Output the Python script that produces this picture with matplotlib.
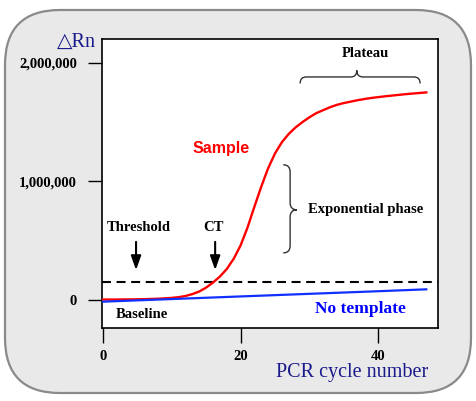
import numpy as np
import matplotlib.pyplot as plt
from matplotlib.patches import FancyBboxPatch, PathPatch
from matplotlib.path import Path

plt.rcParams['font.family'] = ['Liberation Serif', 'DejaVu Serif']

# amplification curve of the sample (delta Rn)
cycles = list(range(0, 48))
sample = [0.004, 0.004, 0.004, 0.005, 0.005, 0.006, 0.007, 0.009, 0.011, 0.014,
          0.018, 0.024, 0.034, 0.050, 0.072, 0.105, 0.148, 0.198, 0.262, 0.348,
          0.460, 0.610, 0.785, 0.955, 1.110, 1.235, 1.330, 1.400, 1.455, 1.500,
          1.540, 1.575, 1.600, 1.625, 1.645, 1.660, 1.672, 1.684, 1.694, 1.703,
          1.710, 1.717, 1.723, 1.729, 1.735, 1.740, 1.745, 1.750]
sample = [v * 1e6 for v in sample]

# no template control
ntc_cycles = [0, 10, 20, 30, 40, 47]
ntc = [-0.014e6, 0.008e6, 0.030e6, 0.052e6, 0.074e6, 0.090e6]

threshold = 0.152e6

xticks = [0, 20, 40]
yticks = [0, 1000000, 2000000]
ytick_labels = ['0', '1,000,000', '2,000,000']

fig = plt.figure(figsize=(4.77, 4.01), dpi=100)
fig.patch.set_facecolor('white')

# rounded grey frame, drawn in pixel units
bg = fig.add_axes([0, 0, 1, 1], zorder=0)
bg.set_xlim(0, 477)
bg.set_ylim(0, 401)
bg.axis('off')
frame = FancyBboxPatch((5, 8), 466, 383, boxstyle='round,pad=0,rounding_size=55',
                       facecolor='#e9e9e9', edgecolor='#8a8a8a', linewidth=1.6)
bg.add_patch(frame)
bg.text(76, 401 - 42, '\u25b3Rn', color='#1a1a8c', fontsize=14.5,
        ha='center', va='center', family=['Liberation Serif', 'DejaVu Sans'])
bg.text(352, 401 - 373, 'PCR cycle number', color='#1a1a8c', fontsize=14.5,
        ha='center', va='center')

ax = fig.add_axes([102 / 477, 1 - 328 / 401, 336 / 477, 289 / 401], zorder=1)
ax.set_facecolor('white')

ax.plot(cycles, sample, color='red', lw=1.7, zorder=3)
ax.plot(ntc_cycles, ntc, color='#1030ff', lw=1.6, zorder=4)
ax.axhline(threshold, color='black', lw=1.5, dashes=(4.3, 2.7), zorder=2)

ax.set_xlim(-0.15, 48.7)
ax.set_ylim(-0.236e6, 2.2e6)
ax.set_xticks(xticks)
ax.set_xticklabels([str(t) for t in xticks])
ax.set_yticks(yticks)
ax.set_yticklabels(ytick_labels)
for lab in ax.get_xticklabels() + ax.get_yticklabels():
    lab.set_fontweight('bold')
    lab.set_fontsize(10.5)
ax.tick_params(axis='y', direction='out', length=10, width=1, pad=8)
ax.tick_params(axis='x', direction='out', length=11, width=1, pad=5)
for s in ax.spines.values():
    s.set_linewidth(1.2)
    s.set_color('black')

bold = dict(fontweight='bold', fontsize=10.5, color='black')
ax.text(5.2, 0.608e6, 'Threshold', ha='center', va='center', **bold)
ax.text(16.0, 0.608e6, 'CT', ha='center', va='center', **bold)
ax.text(5.6, -0.118e6, 'Baseline', ha='center', va='center', **bold)
ax.text(38.1, 2.076e6, 'Plateau', ha='center', va='center', **bold)
ax.text(29.8, 0.76e6, 'Exponential phase', ha='left', va='center', **bold)
ax.text(17.2, 1.274e6, 'Sample', ha='center', va='center', color='red',
        fontsize=11.5, fontweight='bold', family='Liberation Sans')
ax.text(37.4, -0.076e6, 'No template', ha='center', va='center', color='#0000ff',
        fontsize=12.5, fontweight='bold')

arrow = dict(arrowstyle='-|>,head_width=0.25,head_length=0.7', color='black',
             lw=1.5, mutation_scale=12, shrinkA=0, shrinkB=0)
ax.annotate('', xy=(4.8, 0.253e6), xytext=(4.8, 0.49e6), arrowprops=arrow)
ax.annotate('', xy=(16.3, 0.253e6), xytext=(16.3, 0.49e6), arrowprops=arrow)


def hbrace(x0, x1, xm, y, h, r):
    verts = [(x0, y - h), (x0, y), (x0 + r, y), (xm - r, y), (xm, y), (xm, y + h),
             (xm, y), (xm + r, y), (x1 - r, y), (x1, y), (x1, y - h)]
    codes = [Path.MOVETO, Path.CURVE3, Path.CURVE3, Path.LINETO, Path.CURVE3,
             Path.CURVE3, Path.CURVE3, Path.CURVE3, Path.LINETO, Path.CURVE3,
             Path.CURVE3]
    ax.add_patch(PathPatch(Path(verts, codes), fill=False, edgecolor='#333333', lw=1))


def vbrace(y0, y1, ym, x, w, r):
    verts = [(x - w, y0), (x, y0), (x, y0 + r), (x, ym - r), (x, ym), (x + w, ym),
             (x, ym), (x, ym + r), (x, y1 - r), (x, y1), (x - w, y1)]
    codes = [Path.MOVETO, Path.CURVE3, Path.CURVE3, Path.LINETO, Path.CURVE3,
             Path.CURVE3, Path.CURVE3, Path.CURVE3, Path.LINETO, Path.CURVE3,
             Path.CURVE3]
    ax.add_patch(PathPatch(Path(verts, codes), fill=False, edgecolor='#333333', lw=1))


hbrace(28.65, 46.1, 36.9, 1.88e6, 0.055e6, 0.9)
vbrace(0.397e6, 1.14e6, 0.76e6, 27.2, 1.0, 0.06e6)

fig.savefig('out.png', dpi=100)
